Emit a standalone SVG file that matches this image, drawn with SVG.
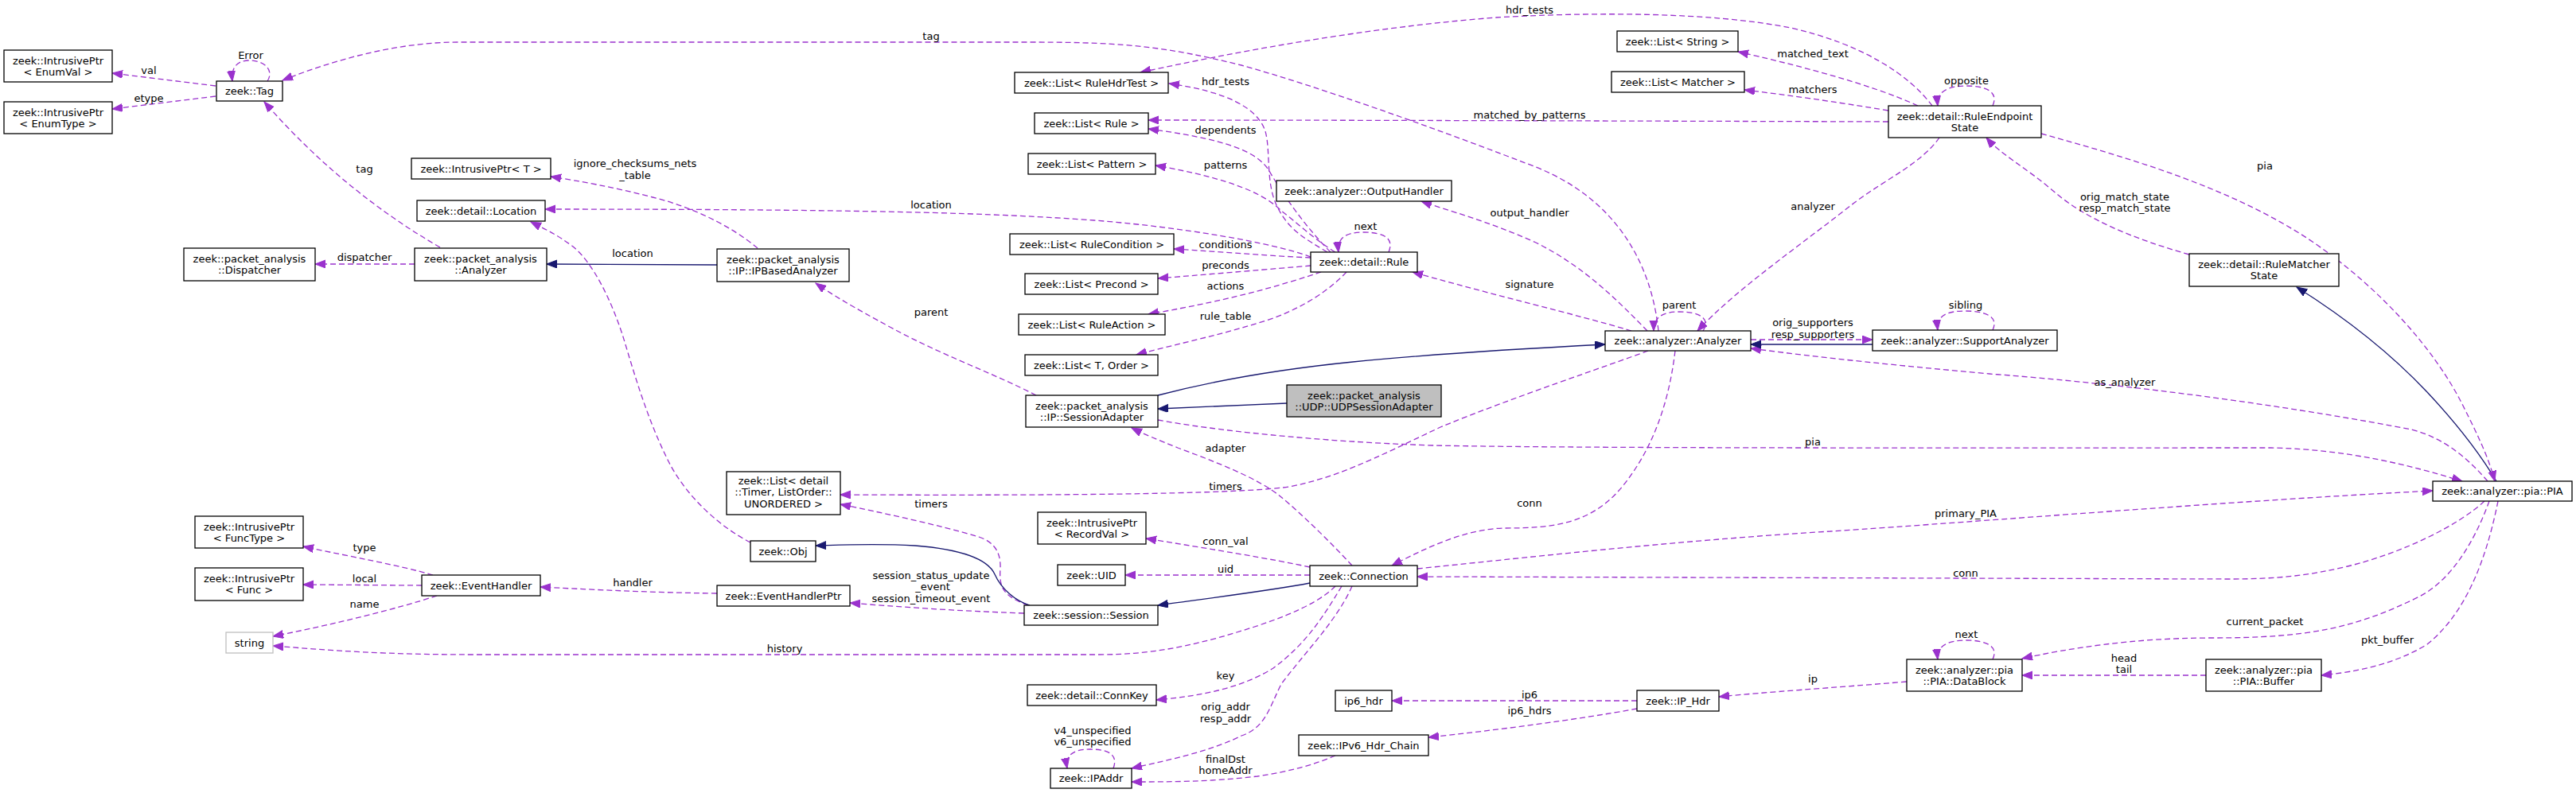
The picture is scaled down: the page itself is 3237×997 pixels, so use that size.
<svg xmlns="http://www.w3.org/2000/svg" width="3237" height="997" viewBox="0 0 3237 997">
<style>
.n rect{fill:#fff;stroke:#000;stroke-width:1.3}
.n text,.lb text{font-family:"DejaVu Sans","Liberation Sans",sans-serif;font-size:13px;text-anchor:middle;fill:#000}
.e{fill:none;stroke:#9a32cd;stroke-width:1.3;stroke-dasharray:7,4;marker-end:url(#ap)}
.i{fill:none;stroke:#191970;stroke-width:1.3;marker-end:url(#ab)}
</style>
<defs>
<marker id="ap" markerWidth="14" markerHeight="11" refX="13" refY="5" orient="auto" markerUnits="userSpaceOnUse"><path d="M0,0 L13,5 L0,10 z" fill="#9a32cd" stroke="#9a32cd" stroke-width="1"/></marker>
<marker id="ab" markerWidth="14" markerHeight="11" refX="13" refY="5" orient="auto" markerUnits="userSpaceOnUse"><path d="M0,0 L13,5 L0,10 z" fill="#191970" stroke="#191970" stroke-width="1"/></marker>
</defs>
<rect width="3237" height="997" fill="#fff"/>

<g id="connectors">
<path class="e" d="M271,108 L141,92"/>
<path class="e" d="M271,121 L141,137"/>
<path class="e" d="M336,102 C345,88 332,76 313,76 C298,76 290,85 292,102"/>
<path class="e" d="M2084,416 C2075,330 2030,250 1930,210 C1800,160 1660,110 1560,82 C1470,60 1420,53 1300,53 L575,53 C500,53 420,75 355,101"/>
<path class="e" d="M553,311 Q430,240 332,128"/>
<path class="e" d="M521,332 L396,332"/>
<path class="i" d="M901,333 L687,332"/>
<path class="e" d="M952,312 C920,285 870,260 820,248 C770,235 730,228 692,222"/>
<path class="e" d="M1647,323 C1600,305 1480,285 1375,277 C1250,268 1100,263 685,263"/>
<path class="e" d="M943,682 C900,660 860,620 840,580 C815,530 800,480 785,430 C770,380 745,330 720,310 C700,295 685,288 667,279"/>
<path class="e" d="M1668,317 C1640,300 1620,290 1605,260 C1590,230 1597,190 1590,165 C1580,135 1540,115 1469,105"/>
<path class="e" d="M2428,133 C2400,95 2340,55 2250,35 C2150,15 2000,15 1880,22 C1750,32 1600,55 1433,91"/>
<path class="e" d="M1672,317 C1645,290 1615,250 1595,215 C1580,190 1540,175 1443,162"/>
<path class="e" d="M2373,153 C2000,152 1700,151 1443,151"/>
<path class="e" d="M1678,317 C1650,300 1630,280 1610,265 C1590,245 1550,225 1452,208"/>
<path class="e" d="M1745,317 C1752,300 1740,292 1713,292 C1690,292 1680,300 1682,317"/>
<path class="e" d="M1647,324 C1600,322 1540,317 1475,313"/>
<path class="e" d="M1647,334 C1600,338 1530,344 1455,350"/>
<path class="e" d="M1660,342 C1620,355 1560,375 1443,395"/>
<path class="e" d="M1692,342 C1670,365 1640,385 1600,400 C1540,420 1480,432 1428,446"/>
<path class="e" d="M2410,133 C2350,105 2250,80 2184,65"/>
<path class="e" d="M2373,139 C2300,127 2250,120 2192,113"/>
<path class="e" d="M2504,133 C2512,115 2495,108 2471,108 C2448,108 2433,115 2435,133"/>
<path class="e" d="M2437,173 C2415,205 2370,225 2330,255 C2260,310 2180,365 2133,416"/>
<path class="e" d="M2751,320 C2680,300 2620,275 2580,240 C2545,210 2515,195 2496,173"/>
<path class="i" d="M3137,605 C3110,560 3080,525 3050,493 C3000,440 2940,395 2886,361"/>
<path class="e" d="M2565,168 C2680,200 2800,235 2900,300 C2990,360 3060,440 3095,510 C3115,550 3127,575 3135,605"/>
<path class="e" d="M3126,605 C3100,575 3070,550 3030,540 C2900,515 2700,485 2500,470 C2390,460 2290,450 2200,438"/>
<path class="i" d="M2353,433 L2200,433"/>
<path class="e" d="M2200,427 L2353,427"/>
<path class="e" d="M2504,415 C2512,398 2495,391 2469,391 C2445,391 2433,398 2435,415"/>
<path class="e" d="M2140,416 C2150,400 2135,392 2110,392 C2090,392 2078,398 2078,416"/>
<path class="e" d="M2050,416 C1980,395 1880,372 1775,342"/>
<path class="e" d="M2070,416 C2030,375 1990,335 1930,305 C1870,278 1820,265 1786,253"/>
<path class="i" d="M1455,497 C1520,480 1600,465 1700,455 C1800,445 1920,438 2017,433"/>
<path class="i" d="M1617,507 L1455,514"/>
<path class="e" d="M1302,497 C1250,470 1180,445 1120,412 C1070,385 1045,370 1025,356"/>
<path class="e" d="M1699,711 C1675,685 1640,650 1610,625 C1580,600 1520,578 1480,563 C1455,553 1438,546 1422,538"/>
<path class="e" d="M1455,528 C1520,540 1650,555 1800,560 C2000,564 2500,563 2854,563 C2950,565 3030,585 3094,605"/>
<path class="e" d="M2071,441 C2020,460 1900,500 1810,537 C1720,580 1680,600 1620,612 C1550,622 1300,623 1056,622"/>
<path class="e" d="M2105,441 C2098,500 2080,560 2040,610 C2000,660 1950,664 1890,664 C1840,665 1790,690 1749,711"/>
<path class="i" d="M1646,733 C1600,742 1520,752 1455,761"/>
<path class="e" d="M1646,713 C1600,703 1520,690 1440,677"/>
<path class="e" d="M1646,723 L1414,723"/>
<path class="e" d="M1678,737 C1650,765 1590,785 1530,802 C1470,818 1430,823 1380,823 L600,823 C480,823 420,818 343,812"/>
<path class="e" d="M1686,737 C1660,780 1640,810 1600,840 C1560,865 1510,875 1453,880"/>
<path class="e" d="M1699,737 C1680,780 1640,820 1610,860 C1595,890 1590,915 1560,925 C1520,945 1470,955 1422,966"/>
<path class="e" d="M1678,950 C1650,962 1620,970 1580,976 C1520,983 1470,983 1422,983"/>
<path class="e" d="M1399,966 C1405,950 1395,942 1370,942 C1348,942 1338,950 1341,966"/>
<path class="e" d="M1292,761 C1262,750 1255,740 1257,715 C1258,690 1245,680 1230,675 C1180,660 1110,645 1056,634"/>
<path class="i" d="M1294,761 C1275,755 1258,740 1250,722 C1240,700 1200,690 1150,686 C1100,683 1060,685 1025,686"/>
<path class="e" d="M1287,771 C1200,768 1130,763 1068,758"/>
<path class="e" d="M901,746 C820,745 760,742 679,738"/>
<path class="e" d="M544,723 C500,710 440,700 381,687"/>
<path class="e" d="M530,736 L381,735"/>
<path class="e" d="M549,749 C500,765 420,785 343,800"/>
<path class="e" d="M2057,881 L1749,881"/>
<path class="e" d="M2057,891 C1980,905 1880,918 1795,927"/>
<path class="e" d="M2396,857 C2300,865 2220,870 2160,876"/>
<path class="e" d="M2504,829 C2512,812 2495,805 2471,805 C2448,805 2433,812 2435,829"/>
<path class="e" d="M2772,849 L2541,849"/>
<path class="e" d="M3128,630 C3110,680 3080,730 3040,750 C2960,790 2900,802 2780,802 C2680,802 2600,815 2541,828"/>
<path class="e" d="M3139,630 C3125,700 3100,770 3050,810 C3010,835 2960,845 2917,849"/>
<path class="e" d="M3122,630 C3090,660 3020,695 2950,712 C2900,724 2860,728 2800,728 L1781,725"/>
<path class="e" d="M1781,715 C1900,703 2100,680 2300,668 C2500,655 2800,630 3057,617"/>
</g>

<g class="lb" id="labels">
<text x="315" y="74">Error</text>
<text x="187" y="93">val</text>
<text x="187" y="128">etype</text>
<text x="458" y="217">tag</text>
<text x="1170" y="50">tag</text>
<text x="458" y="328">dispatcher</text>
<text x="795" y="323">location</text>
<text x="798" y="210">ignore_checksums_nets</text>
<text x="798" y="225">_table</text>
<text x="1540" y="107">hdr_tests</text>
<text x="1540" y="168">dependents</text>
<text x="1540" y="212">patterns</text>
<text x="1170" y="262">location</text>
<text x="1540" y="312">conditions</text>
<text x="1540" y="338">preconds</text>
<text x="1540" y="364">actions</text>
<text x="1540" y="402">rule_table</text>
<text x="1170" y="397">parent</text>
<text x="1922" y="17">hdr_tests</text>
<text x="2278" y="72">matched_text</text>
<text x="2278" y="117">matchers</text>
<text x="1922" y="149">matched_by_patterns</text>
<text x="2278" y="264">analyzer</text>
<text x="1716" y="289">next</text>
<text x="1922" y="272">output_handler</text>
<text x="1922" y="362">signature</text>
<text x="2110" y="388">parent</text>
<text x="2278" y="410">orig_supporters</text>
<text x="2278" y="425">resp_supporters</text>
<text x="2471" y="106">opposite</text>
<text x="2670" y="252">orig_match_state</text>
<text x="2670" y="266">resp_match_state</text>
<text x="2846" y="213">pia</text>
<text x="2470" y="388">sibling</text>
<text x="2670" y="485">as_analyzer</text>
<text x="458" y="693">type</text>
<text x="458" y="732">local</text>
<text x="458" y="764">name</text>
<text x="795" y="737">handler</text>
<text x="1540" y="568">adapter</text>
<text x="1540" y="616">timers</text>
<text x="1170" y="638">timers</text>
<text x="1540" y="685">conn_val</text>
<text x="1540" y="720">uid</text>
<text x="1170" y="728">session_status_update</text>
<text x="1172" y="742">_event</text>
<text x="1170" y="757">session_timeout_event</text>
<text x="986" y="820">history</text>
<text x="1540" y="854">key</text>
<text x="1540" y="893">orig_addr</text>
<text x="1540" y="908">resp_addr</text>
<text x="1373" y="923">v4_unspecified</text>
<text x="1373" y="937">v6_unspecified</text>
<text x="1540" y="959">finalDst</text>
<text x="1540" y="973">homeAddr</text>
<text x="2278" y="560">pia</text>
<text x="1922" y="637">conn</text>
<text x="2278" y="858">ip</text>
<text x="1922" y="878">ip6</text>
<text x="1922" y="898">ip6_hdrs</text>
<text x="2470" y="650">primary_PIA</text>
<text x="2470" y="725">conn</text>
<text x="2846" y="786">current_packet</text>
<text x="2471" y="802">next</text>
<text x="2669" y="832">head</text>
<text x="2669" y="846">tail</text>
<text x="3000" y="809">pkt_buffer</text>
</g>

<g class="n" id="n_enumval"><rect x="5" y="63" width="136" height="40"/><text x="73" y="81">zeek::IntrusivePtr</text><text x="73" y="95">&lt; EnumVal &gt;</text></g>
<g class="n" id="n_enumtype"><rect x="5" y="128" width="136" height="40"/><text x="73" y="146">zeek::IntrusivePtr</text><text x="73" y="160">&lt; EnumType &gt;</text></g>
<g class="n" id="n_tag"><rect x="272" y="102" width="83" height="25"/><text x="313.5" y="119">zeek::Tag</text></g>
<g class="n" id="n_iptr_t"><rect x="517" y="199" width="175" height="26"/><text x="604.5" y="217">zeek::IntrusivePtr&lt; T &gt;</text></g>
<g class="n" id="n_location"><rect x="524" y="252" width="161" height="26"/><text x="604.5" y="270">zeek::detail::Location</text></g>
<g class="n" id="n_dispatcher"><rect x="231" y="312" width="165" height="41"/><text x="313.5" y="330">zeek::packet_analysis</text><text x="313.5" y="344">::Dispatcher</text></g>
<g class="n" id="n_pa_analyzer"><rect x="521" y="312" width="166" height="41"/><text x="604" y="330">zeek::packet_analysis</text><text x="604" y="344">::Analyzer</text></g>
<g class="n" id="n_ipbased"><rect x="901" y="313" width="166" height="41"/><text x="984" y="331">zeek::packet_analysis</text><text x="984" y="345">::IP::IPBasedAnalyzer</text></g>
<g class="n" id="n_hdrtest"><rect x="1275" y="91" width="193" height="26"/><text x="1371.5" y="109">zeek::List&lt; RuleHdrTest &gt;</text></g>
<g class="n" id="n_listrule"><rect x="1300" y="142" width="143" height="26"/><text x="1371.5" y="160">zeek::List&lt; Rule &gt;</text></g>
<g class="n" id="n_pattern"><rect x="1292" y="193" width="160" height="26"/><text x="1372" y="211">zeek::List&lt; Pattern &gt;</text></g>
<g class="n" id="n_cond"><rect x="1269" y="294" width="206" height="26"/><text x="1372" y="312">zeek::List&lt; RuleCondition &gt;</text></g>
<g class="n" id="n_precond"><rect x="1288" y="344" width="167" height="26"/><text x="1371.5" y="362">zeek::List&lt; Precond &gt;</text></g>
<g class="n" id="n_action"><rect x="1280" y="395" width="184" height="26"/><text x="1372" y="413">zeek::List&lt; RuleAction &gt;</text></g>
<g class="n" id="n_order"><rect x="1288" y="446" width="167" height="26"/><text x="1371.5" y="464">zeek::List&lt; T, Order &gt;</text></g>
<g class="n" id="n_liststring"><rect x="2032" y="39" width="152" height="26"/><text x="2108" y="57">zeek::List&lt; String &gt;</text></g>
<g class="n" id="n_matcher"><rect x="2025" y="90" width="167" height="26"/><text x="2108.5" y="108">zeek::List&lt; Matcher &gt;</text></g>
<g class="n" id="n_res"><rect x="2373" y="133" width="192" height="40"/><text x="2469" y="151">zeek::detail::RuleEndpoint</text><text x="2469" y="165">State</text></g>
<g class="n" id="n_output"><rect x="1604" y="227" width="220" height="26"/><text x="1714" y="245">zeek::analyzer::OutputHandler</text></g>
<g class="n" id="n_rule"><rect x="1647" y="317" width="134" height="25"/><text x="1714" y="334">zeek::detail::Rule</text></g>
<g class="n" id="n_analyzer"><rect x="2017" y="416" width="183" height="25"/><text x="2108.5" y="433">zeek::analyzer::Analyzer</text></g>
<g class="n" id="n_support"><rect x="2353" y="415" width="232" height="26"/><text x="2469" y="433">zeek::analyzer::SupportAnalyzer</text></g>
<g class="n" id="n_rms"><rect x="2751" y="319" width="188" height="41"/><text x="2845" y="337">zeek::detail::RuleMatcher</text><text x="2845" y="351">State</text></g>
<g class="n" id="n_udp"><rect x="1617" y="484" width="194" height="40" style="fill:#bfbfbf"/><text x="1714" y="502">zeek::packet_analysis</text><text x="1714" y="516">::UDP::UDPSessionAdapter</text></g>
<g class="n" id="n_sessadapter"><rect x="1289" y="497" width="166" height="40"/><text x="1372" y="515">zeek::packet_analysis</text><text x="1372" y="529">::IP::SessionAdapter</text></g>
<g class="n" id="n_pia"><rect x="3057" y="605" width="175" height="25"/><text x="3144.5" y="622">zeek::analyzer::pia::PIA</text></g>
<g class="n" id="n_timer"><rect x="913" y="593" width="143" height="54"/><text x="984.5" y="609">zeek::List&lt; detail</text><text x="984.5" y="623">::Timer, ListOrder::</text><text x="984.5" y="638">UNORDERED &gt;</text></g>
<g class="n" id="n_recordval"><rect x="1304" y="644" width="136" height="40"/><text x="1372" y="662">zeek::IntrusivePtr</text><text x="1372" y="676">&lt; RecordVal &gt;</text></g>
<g class="n" id="n_uid"><rect x="1329" y="710" width="85" height="26"/><text x="1371.5" y="728">zeek::UID</text></g>
<g class="n" id="n_obj"><rect x="943" y="680" width="82" height="26"/><text x="984" y="698">zeek::Obj</text></g>
<g class="n" id="n_ehptr"><rect x="901" y="736" width="167" height="26"/><text x="984.5" y="754">zeek::EventHandlerPtr</text></g>
<g class="n" id="n_session"><rect x="1287" y="761" width="168" height="25"/><text x="1371" y="778">zeek::session::Session</text></g>
<g class="n" id="n_connkey"><rect x="1291" y="861" width="162" height="26"/><text x="1372" y="879">zeek::detail::ConnKey</text></g>
<g class="n" id="n_ipaddr"><rect x="1320" y="966" width="102" height="25"/><text x="1371" y="983">zeek::IPAddr</text></g>
<g class="n" id="n_connection"><rect x="1646" y="711" width="135" height="26"/><text x="1713.5" y="729">zeek::Connection</text></g>
<g class="n" id="n_ip6hdr"><rect x="1678" y="868" width="71" height="26"/><text x="1713.5" y="886">ip6_hdr</text></g>
<g class="n" id="n_iphdr"><rect x="2057" y="868" width="103" height="26"/><text x="2108.5" y="886">zeek::IP_Hdr</text></g>
<g class="n" id="n_chain"><rect x="1632" y="924" width="163" height="26"/><text x="1713.5" y="942">zeek::IPv6_Hdr_Chain</text></g>
<g class="n" id="n_datablock"><rect x="2396" y="829" width="145" height="40"/><text x="2468.5" y="847">zeek::analyzer::pia</text><text x="2468.5" y="861">::PIA::DataBlock</text></g>
<g class="n" id="n_buffer"><rect x="2772" y="829" width="145" height="40"/><text x="2844.5" y="847">zeek::analyzer::pia</text><text x="2844.5" y="861">::PIA::Buffer</text></g>
<g class="n" id="n_functype"><rect x="245" y="649" width="136" height="40"/><text x="313" y="667">zeek::IntrusivePtr</text><text x="313" y="681">&lt; FuncType &gt;</text></g>
<g class="n" id="n_func"><rect x="245" y="714" width="136" height="41"/><text x="313" y="732">zeek::IntrusivePtr</text><text x="313" y="746">&lt; Func &gt;</text></g>
<g class="n" id="n_eventhandler"><rect x="530" y="723" width="149" height="26"/><text x="604.5" y="741">zeek::EventHandler</text></g>
<g class="n" id="n_string"><rect x="284" y="795" width="59" height="26" style="stroke:#bfbfbf"/><text x="313.5" y="813">string</text></g>
</svg>
